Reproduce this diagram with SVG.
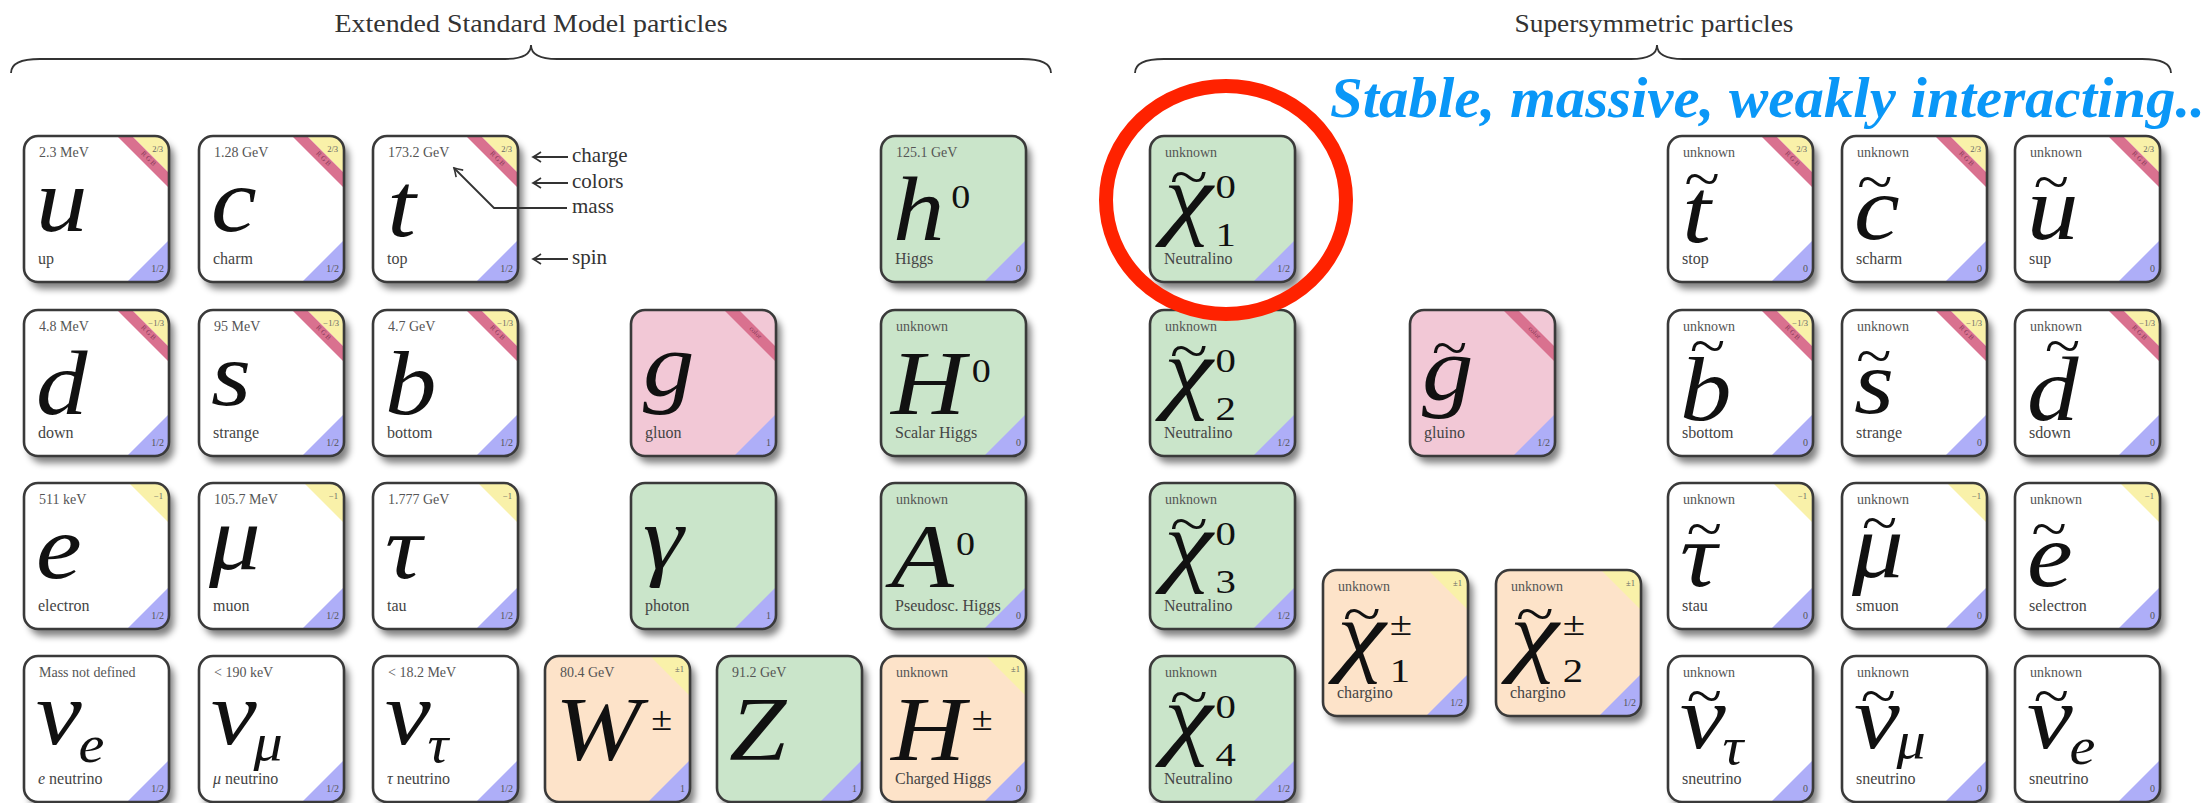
<svg xmlns="http://www.w3.org/2000/svg" width="2212" height="803" viewBox="0 0 2212 803">
<style>
text{font-family:'Liberation Serif','DejaVu Serif',serif}
.card{filter:url(#sh)}
.frame{fill:none;stroke:#3a3a3a;stroke-width:2.6}
.w{fill:#ffffff}.gr{fill:#cae5ca}.pk{fill:#f2c8d6}.pe{fill:#fde3c9}
.m{font-size:14px;fill:#555}
.n{font-size:16px;fill:#444}
.q{font-size:8.5px;fill:#666;text-anchor:end}
.s{font-size:10px;fill:#555;text-anchor:end}
.rgb{font-size:7px;fill:#8a3a5a;text-anchor:middle}
.sym{font-size:92px;font-style:italic;fill:#111}
.sub{font-size:52px;font-style:italic}
.sup{font-size:34px;font-style:normal}
.tl{font-size:58px;font-style:normal}
.title{font-size:26px;fill:#333}
.ann{font-size:21px;fill:#333}
.con{fill:none;stroke:#333;stroke-width:1.8}
</style>
<defs>
<filter id="sh" x="-10%" y="-10%" width="130%" height="130%">
<feGaussianBlur in="SourceAlpha" stdDeviation="3.5" result="b"/>
<feOffset in="b" dx="5" dy="7" result="o"/>
<feComponentTransfer in="o" result="t"><feFuncA type="linear" slope="0.5"/></feComponentTransfer>
<feMerge><feMergeNode in="t"/><feMergeNode in="SourceGraphic"/></feMerge>
</filter>
<rect id="bx" width="145" height="146" rx="14" ry="14"/>
<clipPath id="cp"><rect width="145" height="146" rx="14" ry="14"/></clipPath>
<polygon id="ty" points="105,0 145,0 145,40" fill="#f9f1a9"/>
<polygon id="tyq" points="108,0 145,0 145,37" fill="#f9f1a9"/>
<polygon id="bd" points="93,0 108,0 145,37 145,52" fill="#d9718f"/>
<polygon id="sp" points="145,104 145,146 103,146" fill="#aeaef8"/>
<marker id="ah" viewBox="-10 -6 12 12" refX="0" refY="0" markerWidth="12" markerHeight="12" markerUnits="userSpaceOnUse" orient="auto">
<path d="M -8 -5 Q -3 -1.5 0 0 Q -3 1.5 -8 5" fill="none" stroke="#333" stroke-width="1.6"/>
</marker>
</defs>
<rect width="2212" height="803" fill="#ffffff"/>

<g id="headers">
<text class="title" x="531" y="32" text-anchor="middle" textLength="393" lengthAdjust="spacingAndGlyphs">Extended Standard Model particles</text>
<text class="title" x="1654" y="32" text-anchor="middle" textLength="279" lengthAdjust="spacingAndGlyphs">Supersymmetric particles</text>
<path class="con" stroke-width="2.4" d="M 11 73 C 11 64 20 59 40 59 L 505 59 C 522 59 531 55 531 45 C 531 55 540 59 557 59 L 1022 59 C 1042 59 1051 64 1051 73"/>
<path class="con" stroke-width="2.4" d="M 1135 73 C 1135 64 1144 59 1164 59 L 1631 59 C 1648 59 1657 55 1657 45 C 1657 55 1666 59 1683 59 L 2142 59 C 2162 59 2171 64 2171 73"/>
</g>

<!-- Standard Model -->
<g id="p-u" transform="translate(24,136)"><use href="#bx" class="card w"/><g clip-path="url(#cp)"><use href="#tyq"/><use href="#bd"/><use href="#sp"/></g><use href="#bx" class="frame"/>
<text class="m" x="15" y="21">2.3 MeV</text><text class="q" x="139" y="16">2/3</text><text class="rgb" transform="translate(123,24) rotate(45)">R G B</text><text class="s" x="140" y="136">1/2</text><text class="n" x="14" y="128">up</text><text class="sym" transform="translate(12,0) scale(1.12,1)" x="0" y="95">u</text></g>
<g id="p-c" transform="translate(199,136)"><use href="#bx" class="card w"/><g clip-path="url(#cp)"><use href="#tyq"/><use href="#bd"/><use href="#sp"/></g><use href="#bx" class="frame"/>
<text class="m" x="15" y="21">1.28 GeV</text><text class="q" x="139" y="16">2/3</text><text class="rgb" transform="translate(123,24) rotate(45)">R G B</text><text class="s" x="140" y="136">1/2</text><text class="n" x="14" y="128">charm</text><text class="sym" transform="translate(12,0) scale(1.12,1)" x="0" y="95">c</text></g>
<g id="p-t" transform="translate(373,136)"><use href="#bx" class="card w"/><g clip-path="url(#cp)"><use href="#tyq"/><use href="#bd"/><use href="#sp"/></g><use href="#bx" class="frame"/>
<text class="m" x="15" y="21">173.2 GeV</text><text class="q" x="139" y="16">2/3</text><text class="rgb" transform="translate(123,24) rotate(45)">R G B</text><text class="s" x="140" y="136">1/2</text><text class="n" x="14" y="128">top</text><text class="sym" transform="translate(12,0) scale(1.12,1)" x="2" y="100">t</text></g>
<g id="p-h0" transform="translate(881,136)"><use href="#bx" class="card gr"/><g clip-path="url(#cp)"><use href="#sp"/></g><use href="#bx" class="frame"/>
<text class="m" x="15" y="21">125.1 GeV</text><text class="s" x="140" y="136">0</text><text class="n" x="14" y="128">Higgs</text><text class="sym" transform="translate(12,0) scale(1.12,1)" x="0" y="104">h<tspan class="sup" x="52" y="72">0</tspan></text></g>

<g id="p-d" transform="translate(24,310)"><use href="#bx" class="card w"/><g clip-path="url(#cp)"><use href="#tyq"/><use href="#bd"/><use href="#sp"/></g><use href="#bx" class="frame"/>
<text class="m" x="15" y="21">4.8 MeV</text><text class="q" x="140" y="16">−1/3</text><text class="rgb" transform="translate(123,24) rotate(45)">R G B</text><text class="s" x="140" y="136">1/2</text><text class="n" x="14" y="128">down</text><text class="sym" transform="translate(12,0) scale(1.12,1)" x="0" y="104">d</text></g>
<g id="p-s" transform="translate(199,310)"><use href="#bx" class="card w"/><g clip-path="url(#cp)"><use href="#tyq"/><use href="#bd"/><use href="#sp"/></g><use href="#bx" class="frame"/>
<text class="m" x="15" y="21">95 MeV</text><text class="q" x="140" y="16">−1/3</text><text class="rgb" transform="translate(123,24) rotate(45)">R G B</text><text class="s" x="140" y="136">1/2</text><text class="n" x="14" y="128">strange</text><text class="sym" transform="translate(12,0) scale(1.12,1)" x="0" y="95">s</text></g>
<g id="p-b" transform="translate(373,310)"><use href="#bx" class="card w"/><g clip-path="url(#cp)"><use href="#tyq"/><use href="#bd"/><use href="#sp"/></g><use href="#bx" class="frame"/>
<text class="m" x="15" y="21">4.7 GeV</text><text class="q" x="140" y="16">−1/3</text><text class="rgb" transform="translate(123,24) rotate(45)">R G B</text><text class="s" x="140" y="136">1/2</text><text class="n" x="14" y="128">bottom</text><text class="sym" transform="translate(12,0) scale(1.12,1)" x="0" y="104">b</text></g>
<g id="p-g" transform="translate(631,310)"><use href="#bx" class="card pk"/><g clip-path="url(#cp)"><use href="#bd"/><use href="#sp"/></g><use href="#bx" class="frame"/>
<text class="rgb" transform="translate(123,24) rotate(45)">color</text><text class="s" x="140" y="136">1</text><text class="n" x="14" y="128">gluon</text><text class="sym" transform="translate(12,0) scale(1.12,1)" x="0" y="86">g</text></g>
<g id="p-H0" transform="translate(881,310)"><use href="#bx" class="card gr"/><g clip-path="url(#cp)"><use href="#sp"/></g><use href="#bx" class="frame"/>
<text class="m" x="15" y="21">unknown</text><text class="s" x="140" y="136">0</text><text class="n" x="14" y="128">Scalar Higgs</text><text class="sym" transform="translate(10,0) scale(1.12,1)" x="0" y="104">H<tspan class="sup" x="72" y="72">0</tspan></text></g>

<g id="p-e" transform="translate(24,483)"><use href="#bx" class="card w"/><g clip-path="url(#cp)"><use href="#ty"/><use href="#sp"/></g><use href="#bx" class="frame"/>
<text class="m" x="15" y="21">511 keV</text><text class="q" x="139" y="16">−1</text><text class="s" x="140" y="136">1/2</text><text class="n" x="14" y="128">electron</text><text class="sym" transform="translate(12,0) scale(1.12,1)" x="0" y="95">e</text></g>
<g id="p-mu" transform="translate(199,483)"><use href="#bx" class="card w"/><g clip-path="url(#cp)"><use href="#ty"/><use href="#sp"/></g><use href="#bx" class="frame"/>
<text class="m" x="15" y="21">105.7 MeV</text><text class="q" x="139" y="16">−1</text><text class="s" x="140" y="136">1/2</text><text class="n" x="14" y="128">muon</text><text class="sym" transform="translate(10,0) scale(1.12,1)" x="0" y="86">μ</text></g>
<g id="p-tau" transform="translate(373,483)"><use href="#bx" class="card w"/><g clip-path="url(#cp)"><use href="#ty"/><use href="#sp"/></g><use href="#bx" class="frame"/>
<text class="m" x="15" y="21">1.777 GeV</text><text class="q" x="139" y="16">−1</text><text class="s" x="140" y="136">1/2</text><text class="n" x="14" y="128">tau</text><text class="sym" transform="translate(12,0) scale(1.12,1)" x="0" y="95">τ</text></g>
<g id="p-gamma" transform="translate(631,483)"><use href="#bx" class="card gr"/><g clip-path="url(#cp)"><use href="#sp"/></g><use href="#bx" class="frame"/>
<text class="s" x="140" y="136">1</text><text class="n" x="14" y="128">photon</text><text class="sym" transform="translate(12,0) scale(1.12,1)" x="0" y="86">γ</text></g>
<g id="p-A0" transform="translate(881,483)"><use href="#bx" class="card gr"/><g clip-path="url(#cp)"><use href="#sp"/></g><use href="#bx" class="frame"/>
<text class="m" x="15" y="21">unknown</text><text class="s" x="140" y="136">0</text><text class="n" x="14" y="128">Pseudosc. Higgs</text><text class="sym" transform="translate(10,0) scale(1.12,1)" x="0" y="104">A<tspan class="sup" x="58" y="72">0</tspan></text></g>

<g id="p-nue" transform="translate(24,656)"><use href="#bx" class="card w"/><g clip-path="url(#cp)"><use href="#sp"/></g><use href="#bx" class="frame"/>
<text class="m" x="15" y="21">Mass not defined</text><text class="s" x="140" y="136">1/2</text><text class="n" x="14" y="128"><tspan font-style="italic">e</tspan> neutrino</text><text class="sym" transform="translate(12,0) scale(1.12,1)" x="0" y="88">ν<tspan class="sub" x="38" y="106">e</tspan></text></g>
<g id="p-numu" transform="translate(199,656)"><use href="#bx" class="card w"/><g clip-path="url(#cp)"><use href="#sp"/></g><use href="#bx" class="frame"/>
<text class="m" x="15" y="21">&lt; 190 keV</text><text class="s" x="140" y="136">1/2</text><text class="n" x="14" y="128"><tspan font-style="italic">μ</tspan> neutrino</text><text class="sym" transform="translate(12,0) scale(1.12,1)" x="0" y="88">ν<tspan class="sub" x="38" y="104">μ</tspan></text></g>
<g id="p-nutau" transform="translate(373,656)"><use href="#bx" class="card w"/><g clip-path="url(#cp)"><use href="#sp"/></g><use href="#bx" class="frame"/>
<text class="m" x="15" y="21">&lt; 18.2 MeV</text><text class="s" x="140" y="136">1/2</text><text class="n" x="14" y="128"><tspan font-style="italic">τ</tspan> neutrino</text><text class="sym" transform="translate(12,0) scale(1.12,1)" x="0" y="88">ν<tspan class="sub" x="38" y="106">τ</tspan></text></g>
<g id="p-W" transform="translate(545,656)"><use href="#bx" class="card pe"/><g clip-path="url(#cp)"><use href="#ty"/><use href="#sp"/></g><use href="#bx" class="frame"/>
<text class="m" x="15" y="21">80.4 GeV</text><text class="q" x="139" y="16">±1</text><text class="s" x="140" y="136">1</text><text class="sym" transform="translate(10,0) scale(1.12,1)" x="0" y="104">W<tspan class="sup" x="86" y="74">±</tspan></text></g>
<g id="p-Z" transform="translate(717,656)"><use href="#bx" class="card gr"/><g clip-path="url(#cp)"><use href="#sp"/></g><use href="#bx" class="frame"/>
<text class="m" x="15" y="21">91.2 GeV</text><text class="s" x="140" y="136">1</text><text class="sym" transform="translate(12,0) scale(1.12,1)" x="0" y="104">Z</text></g>
<g id="p-Hpm" transform="translate(881,656)"><use href="#bx" class="card pe"/><g clip-path="url(#cp)"><use href="#ty"/><use href="#sp"/></g><use href="#bx" class="frame"/>
<text class="m" x="15" y="21">unknown</text><text class="q" x="139" y="16">±1</text><text class="s" x="140" y="136">0</text><text class="n" x="14" y="128">Charged Higgs</text><text class="sym" transform="translate(10,0) scale(1.12,1)" x="0" y="104">H<tspan class="sup" x="72" y="74">±</tspan></text></g>

<!-- Supersymmetric -->
<g id="p-n1" transform="translate(1150,136)"><use href="#bx" class="card gr"/><g clip-path="url(#cp)"><use href="#sp"/></g><use href="#bx" class="frame"/>
<text class="m" x="15" y="21">unknown</text><text class="s" x="140" y="136">1/2</text><text class="n" x="14" y="128">Neutralino</text><text class="sym" transform="translate(14,0) scale(1.2,1)" x="0" y="92">χ<tspan class="tl" x="5" y="60">~</tspan><tspan class="sup" x="43" y="62">0</tspan><tspan class="sup" x="43" y="110">1</tspan></text></g>
<g id="p-n2" transform="translate(1150,310)"><use href="#bx" class="card gr"/><g clip-path="url(#cp)"><use href="#sp"/></g><use href="#bx" class="frame"/>
<text class="m" x="15" y="21">unknown</text><text class="s" x="140" y="136">1/2</text><text class="n" x="14" y="128">Neutralino</text><text class="sym" transform="translate(14,0) scale(1.2,1)" x="0" y="92">χ<tspan class="tl" x="5" y="60">~</tspan><tspan class="sup" x="43" y="62">0</tspan><tspan class="sup" x="43" y="110">2</tspan></text></g>
<g id="p-n3" transform="translate(1150,483)"><use href="#bx" class="card gr"/><g clip-path="url(#cp)"><use href="#sp"/></g><use href="#bx" class="frame"/>
<text class="m" x="15" y="21">unknown</text><text class="s" x="140" y="136">1/2</text><text class="n" x="14" y="128">Neutralino</text><text class="sym" transform="translate(14,0) scale(1.2,1)" x="0" y="92">χ<tspan class="tl" x="5" y="60">~</tspan><tspan class="sup" x="43" y="62">0</tspan><tspan class="sup" x="43" y="110">3</tspan></text></g>
<g id="p-n4" transform="translate(1150,656)"><use href="#bx" class="card gr"/><g clip-path="url(#cp)"><use href="#sp"/></g><use href="#bx" class="frame"/>
<text class="m" x="15" y="21">unknown</text><text class="s" x="140" y="136">1/2</text><text class="n" x="14" y="128">Neutralino</text><text class="sym" transform="translate(14,0) scale(1.2,1)" x="0" y="92">χ<tspan class="tl" x="5" y="60">~</tspan><tspan class="sup" x="43" y="62">0</tspan><tspan class="sup" x="43" y="110">4</tspan></text></g>
<g id="p-gluino" transform="translate(1410,310)"><use href="#bx" class="card pk"/><g clip-path="url(#cp)"><use href="#bd"/><use href="#sp"/></g><use href="#bx" class="frame"/>
<text class="rgb" transform="translate(123,24) rotate(45)">color</text><text class="s" x="140" y="136">1/2</text><text class="n" x="14" y="128">gluino</text><text class="sym" transform="translate(12,0) scale(1.12,1)" x="0" y="90">g<tspan class="tl" x="9" y="57">~</tspan></text></g>
<g id="p-c1" transform="translate(1323,570)"><use href="#bx" class="card pe"/><g clip-path="url(#cp)"><use href="#ty"/><use href="#sp"/></g><use href="#bx" class="frame"/>
<text class="m" x="15" y="21">unknown</text><text class="q" x="139" y="16">±1</text><text class="s" x="140" y="136">1/2</text><text class="n" x="14" y="128">chargino</text><text class="sym" transform="translate(14,0) scale(1.2,1)" x="0" y="95">χ<tspan class="tl" x="5" y="63">~</tspan><tspan class="sup" x="44" y="65">±</tspan><tspan class="sup" x="44" y="112">1</tspan></text></g>
<g id="p-c2" transform="translate(1496,570)"><use href="#bx" class="card pe"/><g clip-path="url(#cp)"><use href="#ty"/><use href="#sp"/></g><use href="#bx" class="frame"/>
<text class="m" x="15" y="21">unknown</text><text class="q" x="139" y="16">±1</text><text class="s" x="140" y="136">1/2</text><text class="n" x="14" y="128">chargino</text><text class="sym" transform="translate(14,0) scale(1.2,1)" x="0" y="95">χ<tspan class="tl" x="5" y="63">~</tspan><tspan class="sup" x="44" y="65">±</tspan><tspan class="sup" x="44" y="112">2</tspan></text></g>

<g id="p-stop" transform="translate(1668,136)"><use href="#bx" class="card w"/><g clip-path="url(#cp)"><use href="#tyq"/><use href="#bd"/><use href="#sp"/></g><use href="#bx" class="frame"/>
<text class="m" x="15" y="21">unknown</text><text class="q" x="139" y="16">2/3</text><text class="rgb" transform="translate(123,24) rotate(45)">R G B</text><text class="s" x="140" y="136">0</text><text class="n" x="14" y="128">stop</text><text class="sym" transform="translate(12,0) scale(1.12,1)" x="2" y="106">t<tspan class="tl" x="4" y="62">~</tspan></text></g>
<g id="p-scharm" transform="translate(1842,136)"><use href="#bx" class="card w"/><g clip-path="url(#cp)"><use href="#tyq"/><use href="#bd"/><use href="#sp"/></g><use href="#bx" class="frame"/>
<text class="m" x="15" y="21">unknown</text><text class="q" x="139" y="16">2/3</text><text class="rgb" transform="translate(123,24) rotate(45)">R G B</text><text class="s" x="140" y="136">0</text><text class="n" x="14" y="128">scharm</text><text class="sym" transform="translate(12,0) scale(1.12,1)" x="0" y="103">c<tspan class="tl" x="3" y="65">~</tspan></text></g>
<g id="p-sup" transform="translate(2015,136)"><use href="#bx" class="card w"/><g clip-path="url(#cp)"><use href="#tyq"/><use href="#bd"/><use href="#sp"/></g><use href="#bx" class="frame"/>
<text class="m" x="15" y="21">unknown</text><text class="q" x="139" y="16">2/3</text><text class="rgb" transform="translate(123,24) rotate(45)">R G B</text><text class="s" x="140" y="136">0</text><text class="n" x="14" y="128">sup</text><text class="sym" transform="translate(12,0) scale(1.12,1)" x="0" y="103">u<tspan class="tl" x="6" y="65">~</tspan></text></g>
<g id="p-sbottom" transform="translate(1668,310)"><use href="#bx" class="card w"/><g clip-path="url(#cp)"><use href="#tyq"/><use href="#bd"/><use href="#sp"/></g><use href="#bx" class="frame"/>
<text class="m" x="15" y="21">unknown</text><text class="q" x="140" y="16">−1/3</text><text class="rgb" transform="translate(123,24) rotate(45)">R G B</text><text class="s" x="140" y="136">0</text><text class="n" x="14" y="128">sbottom</text><text class="sym" transform="translate(12,0) scale(1.12,1)" x="0" y="110">b<tspan class="tl" x="9" y="55">~</tspan></text></g>
<g id="p-sstrange" transform="translate(1842,310)"><use href="#bx" class="card w"/><g clip-path="url(#cp)"><use href="#tyq"/><use href="#bd"/><use href="#sp"/></g><use href="#bx" class="frame"/>
<text class="m" x="15" y="21">unknown</text><text class="q" x="140" y="16">−1/3</text><text class="rgb" transform="translate(123,24) rotate(45)">R G B</text><text class="s" x="140" y="136">0</text><text class="n" x="14" y="128">strange</text><text class="sym" transform="translate(12,0) scale(1.12,1)" x="0" y="103">s<tspan class="tl" x="2" y="65">~</tspan></text></g>
<g id="p-sdown" transform="translate(2015,310)"><use href="#bx" class="card w"/><g clip-path="url(#cp)"><use href="#tyq"/><use href="#bd"/><use href="#sp"/></g><use href="#bx" class="frame"/>
<text class="m" x="15" y="21">unknown</text><text class="q" x="140" y="16">−1/3</text><text class="rgb" transform="translate(123,24) rotate(45)">R G B</text><text class="s" x="140" y="136">0</text><text class="n" x="14" y="128">sdown</text><text class="sym" transform="translate(12,0) scale(1.12,1)" x="0" y="110">d<tspan class="tl" x="16" y="55">~</tspan></text></g>
<g id="p-stau" transform="translate(1668,483)"><use href="#bx" class="card w"/><g clip-path="url(#cp)"><use href="#ty"/><use href="#sp"/></g><use href="#bx" class="frame"/>
<text class="m" x="15" y="21">unknown</text><text class="q" x="139" y="16">−1</text><text class="s" x="140" y="136">0</text><text class="n" x="14" y="128">stau</text><text class="sym" transform="translate(12,0) scale(1.12,1)" x="0" y="103">τ<tspan class="tl" x="6" y="65">~</tspan></text></g>
<g id="p-smuon" transform="translate(1842,483)"><use href="#bx" class="card w"/><g clip-path="url(#cp)"><use href="#ty"/><use href="#sp"/></g><use href="#bx" class="frame"/>
<text class="m" x="15" y="21">unknown</text><text class="q" x="139" y="16">−1</text><text class="s" x="140" y="136">0</text><text class="n" x="14" y="128">smuon</text><text class="sym" transform="translate(10,0) scale(1.12,1)" x="0" y="94">μ<tspan class="tl" x="9" y="59">~</tspan></text></g>
<g id="p-selectron" transform="translate(2015,483)"><use href="#bx" class="card w"/><g clip-path="url(#cp)"><use href="#ty"/><use href="#sp"/></g><use href="#bx" class="frame"/>
<text class="m" x="15" y="21">unknown</text><text class="q" x="139" y="16">−1</text><text class="s" x="140" y="136">0</text><text class="n" x="14" y="128">selectron</text><text class="sym" transform="translate(12,0) scale(1.12,1)" x="0" y="103">e<tspan class="tl" x="4" y="65">~</tspan></text></g>
<g id="p-snutau" transform="translate(1668,656)"><use href="#bx" class="card w"/><g clip-path="url(#cp)"><use href="#sp"/></g><use href="#bx" class="frame"/>
<text class="m" x="15" y="21">unknown</text><text class="s" x="140" y="136">0</text><text class="n" x="14" y="128">sneutrino</text><text class="sym" transform="translate(12,0) scale(1.12,1)" x="0" y="92">ν<tspan class="tl" x="6" y="59">~</tspan><tspan class="sub" x="38" y="108">τ</tspan></text></g>
<g id="p-snumu" transform="translate(1842,656)"><use href="#bx" class="card w"/><g clip-path="url(#cp)"><use href="#sp"/></g><use href="#bx" class="frame"/>
<text class="m" x="15" y="21">unknown</text><text class="s" x="140" y="136">0</text><text class="n" x="14" y="128">sneutrino</text><text class="sym" transform="translate(12,0) scale(1.12,1)" x="0" y="92">ν<tspan class="tl" x="6" y="59">~</tspan><tspan class="sub" x="38" y="102">μ</tspan></text></g>
<g id="p-snue" transform="translate(2015,656)"><use href="#bx" class="card w"/><g clip-path="url(#cp)"><use href="#sp"/></g><use href="#bx" class="frame"/>
<text class="m" x="15" y="21">unknown</text><text class="s" x="140" y="136">0</text><text class="n" x="14" y="128">sneutrino</text><text class="sym" transform="translate(12,0) scale(1.12,1)" x="0" y="92">ν<tspan class="tl" x="6" y="59">~</tspan><tspan class="sub" x="38" y="108">e</tspan></text></g>

<g id="legend">
<text class="ann" x="572" y="162">charge</text>
<text class="ann" x="572" y="188">colors</text>
<text class="ann" x="572" y="213">mass</text>
<text class="ann" x="572" y="264">spin</text>
</g>
<g id="connectors">
<path class="con" d="M 568 157 H 533" marker-end="url(#ah)"/>
<path class="con" d="M 568 183 H 533" marker-end="url(#ah)"/>
<path class="con" d="M 567 208 H 494 L 454 168" marker-end="url(#ah)"/>
<path class="con" d="M 568 259 H 533" marker-end="url(#ah)"/>
</g>

<g id="highlight">
<ellipse cx="1226" cy="200" rx="120" ry="114" fill="none" stroke="#ff2200" stroke-width="14"/>
<text x="1330" y="117" font-size="57" font-weight="bold" font-style="italic" fill="#0a97f7" textLength="875" lengthAdjust="spacingAndGlyphs">Stable, massive, weakly interacting..</text>
</g>
</svg>
